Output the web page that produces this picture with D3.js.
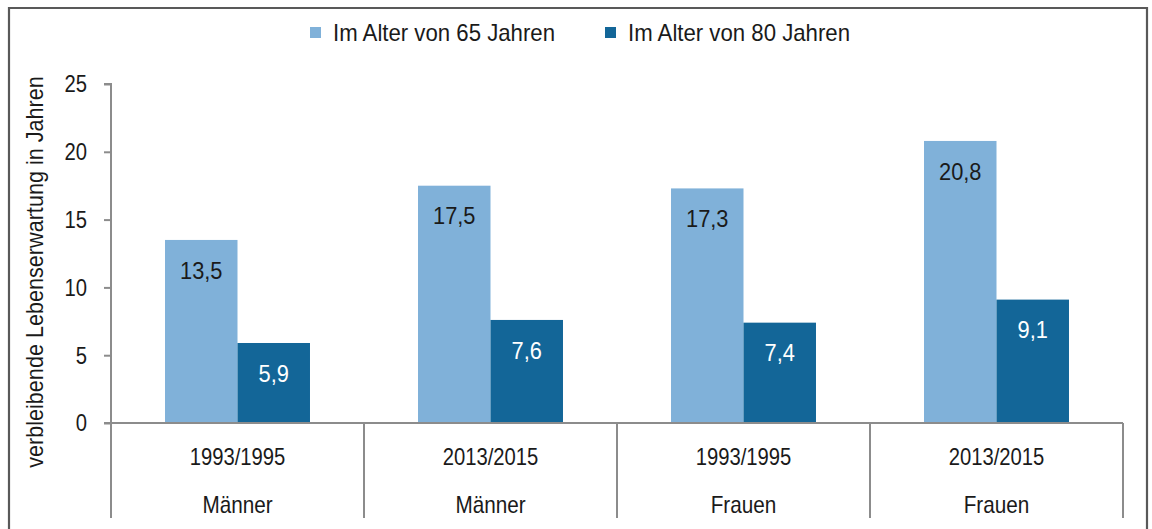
<!DOCTYPE html>
<html><head><meta charset="utf-8">
<script src="https://cdn.jsdelivr.net/npm/d3@7"></script>
<style>
html,body{margin:0;padding:0;background:#fff;}
svg{display:block;font-family:"Liberation Sans",Arial,sans-serif;}
</style></head>
<body>
<svg id="c" width="1152" height="529"></svg>
<script>
const periods = ["1993/1995","2013/2015","1993/1995","2013/2015"];
const genders = ["Männer","Männer","Frauen","Frauen"];
const seriesNames = ["Im Alter von 65 Jahren","Im Alter von 80 Jahren"];
const age65 = [13.5,17.5,17.3,20.8];
const age80 = [5.9,7.6,7.4,9.1];
const yTicks = [0,5,10,15,20,25];
const colors = ["#80b1d9","#136698"];

(function(){
const svg = d3.select("#c");
const W = 1152, H = 529;
const pL = 111, pR = 1123, pT = 84, pB = 423;
const ink = "#1a1a1a";

function txt(parent, x, y, str, size, sx, anchor, fill, rot){
  const t = parent.append("text")
    .attr("transform",`translate(${x},${y})${rot?` rotate(${rot})`:""} scale(${sx},1)`)
    .attr("text-anchor",anchor).attr("dominant-baseline","central")
    .attr("font-size",size).attr("fill",fill||ink).text(str);
  return t;
}

// frame
svg.append("path").attr("d",`M9,${H+2} L9,8 L1147,8 L1147,${H+2}`)
  .attr("fill","none").attr("stroke","#595959").attr("stroke-width",2.2);

const idx = d3.range(periods.length);
const x0 = d3.scaleBand().domain(idx).range([pL,pR]).padding(0);
const bw = x0.bandwidth();
const groupW = bw*0.573;
const x1 = d3.scaleBand().domain([0,1]).range([(bw-groupW)/2,(bw+groupW)/2]).padding(0);
const y = d3.scaleLinear().domain([0,25]).range([pB,pT]);

const fmt = d3.formatLocale({decimal:",",thousands:".",grouping:[3],currency:["","€"]}).format(".1f");
const axisColor = "#8c8c8c";

// y axis
const yAx = svg.append("g").attr("transform",`translate(${pL},0)`)
  .call(d3.axisLeft(y).tickValues(yTicks).tickSize(7).tickPadding(17).tickFormat(d3.format("d")));
yAx.select(".domain").attr("stroke",axisColor).attr("stroke-width",2).attr("d",`M-7,${pT}H0V${pB}`);
yAx.selectAll(".tick line").attr("stroke",axisColor).attr("stroke-width",2);
yAx.selectAll(".tick text").attr("x",0).attr("dy",null).attr("dominant-baseline","central")
  .attr("transform","translate(-24,0) scale(0.88,1)")
  .attr("font-size",23).attr("fill",ink).attr("font-family","Liberation Sans, Arial, sans-serif");

// bars
const data = idx.map(i=>[age65[i],age80[i]]);
const g = svg.append("g");
idx.forEach(i=>{
  data[i].forEach((v,s)=>{
    const xx = x0(i)+x1(s);
    g.append("rect").attr("x",xx).attr("y",y(v)).attr("width",x1.bandwidth()).attr("height",y(0)-y(v))
      .attr("fill",colors[s]);
    txt(g, xx+x1.bandwidth()/2, y(v)+31, fmt(v), 23, 0.95, "middle", s===0?ink:"#ffffff");
  });
});

// x axis
const xa = svg.append("g");
xa.append("line").attr("x1",pL-7).attr("x2",pR).attr("y1",pB).attr("y2",pB)
  .attr("stroke",axisColor).attr("stroke-width",2);
const bounds = idx.map(i=>x0(i)).concat([x0(idx[idx.length-1])+bw]);
bounds.forEach(b=>{
  xa.append("line").attr("x1",b).attr("x2",b).attr("y1",pB).attr("y2",518)
    .attr("stroke",axisColor).attr("stroke-width",2);
});
idx.forEach(i=>{
  const cx = x0(i)+bw/2;
  txt(xa, cx, 457, periods[i], 23, 0.88, "middle");
  txt(xa, cx, 505, genders[i], 23, 0.9, "middle");
});

// y title
txt(svg, 35, 272, "verbleibende Lebenserwartung in Jahren", 23, 0.94, "middle", ink, -90);

// legend
const legX = [310,605];
seriesNames.forEach((n,s)=>{
  svg.append("rect").attr("x",legX[s]).attr("y",27).attr("width",11).attr("height",11).attr("fill",colors[s]);
  txt(svg, legX[s]+23, 33, n, 23, 0.965, "start");
});
})();
</script>
</body></html>
